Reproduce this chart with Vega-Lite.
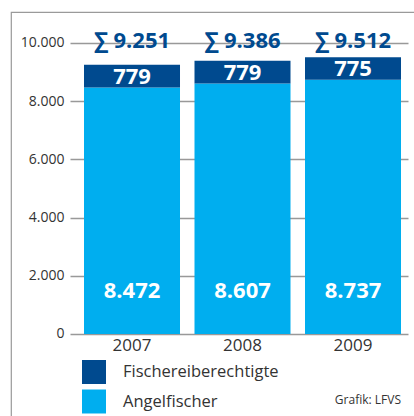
{
  "$schema": "https://vega.github.io/schema/vega-lite/v6.json",
  "width": 410,
  "height": 410,
  "autosize": {"type": "none"},
  "padding": {"left": 11, "top": 12, "right": 0, "bottom": 0},
  "background": "white",
  "config": {
    "locale": {"number": {"decimal": ",", "thousands": ".", "grouping": [3], "currency": ["", " €"]}},
    "view": {"stroke": "#9a9a9a", "strokeWidth": 1.2},
    "font": "Open Sans"
  },
  "datasets": {
    "bars": [
      {"year": "2007", "type": "Angelfischer", "value": 8472},
      {"year": "2007", "type": "Fischereiberechtigte", "value": 779},
      {"year": "2008", "type": "Angelfischer", "value": 8607},
      {"year": "2008", "type": "Fischereiberechtigte", "value": 779},
      {"year": "2009", "type": "Angelfischer", "value": 8737},
      {"year": "2009", "type": "Fischereiberechtigte", "value": 775}
    ],
    "totals": [
      {"year": "2007", "total": 9251, "label": "∑ 9.251"},
      {"year": "2008", "total": 9386, "label": "∑ 9.386"},
      {"year": "2009", "total": 9512, "label": "∑ 9.512"}
    ],
    "note": [{"text": "Grafik: LFVS"}]
  },
  "resolve": {"scale": {"x": "shared", "y": "shared"}},
  "layer": [
    {
      "data": {"name": "bars"},
      "mark": {"type": "bar"},
      "encoding": {
        "x": {
          "field": "year", "type": "nominal",
          "scale": {"paddingInner": 0.1312, "paddingOuter": 0.4208, "align": 0.785},
          "axis": {"orient": "bottom", "offset": -88, "ticks": false, "domain": false, "labelPadding": 3, "labelFontSize": 17, "labelColor": "#333333", "labelAngle": 0, "title": null, "zindex": 0}
        },
        "y": {
          "field": "value", "type": "quantitative",
          "scale": {"domain": [-3024, 11065], "nice": false, "zero": false},
          "axis": {"values": [0, 2000, 4000, 6000, 8000, 10000], "offset": -59, "tickSize": -338, "tickColor": "#999999", "tickWidth": 1.5, "domain": false, "grid": false, "labelPadding": 344, "labelFontSize": 14, "labelColor": "#333333", "title": null, "labelExpr": "replace(format(datum.value, ','), ',', '.')", "zindex": 0}
        },
        "color": {
          "field": "type", "type": "nominal",
          "scale": {"domain": ["Fischereiberechtigte", "Angelfischer"], "range": ["#004a8f", "#00aeef"]},
          "legend": {"orient": "none", "legendX": 71, "legendY": 348, "title": null, "symbolType": "square", "symbolSize": 576, "symbolStrokeWidth": 0, "symbolOpacity": 1, "labelFontSize": 16.5, "labelColor": "#333333", "labelOffset": 17, "rowPadding": 5.5, "padding": 0}
        },
        "order": {"field": "type", "type": "nominal", "sort": "ascending"}
      }
    },
    {
      "data": {"name": "bars"},
      "transform": [{"filter": "datum.type == 'Angelfischer'"}],
      "mark": {"type": "text", "color": "white", "fontWeight": "bold", "fontSize": 22, "baseline": "middle", "dy": -43},
      "encoding": {
        "x": {"field": "year", "type": "nominal"},
        "y": {"datum": 0, "type": "quantitative"},
        "text": {"field": "value", "type": "quantitative", "format": ",d"}
      }
    },
    {
      "data": {"name": "bars"},
      "transform": [
        {"joinaggregate": [{"op": "sum", "field": "value", "as": "total"}], "groupby": ["year"]},
        {"filter": "datum.type == 'Fischereiberechtigte'"}
      ],
      "mark": {"type": "text", "color": "white", "fontWeight": "bold", "fontSize": 22, "baseline": "middle", "dy": 12},
      "encoding": {
        "x": {"field": "year", "type": "nominal"},
        "y": {"field": "total", "type": "quantitative"},
        "text": {"field": "value", "type": "quantitative", "format": ",d"}
      }
    },
    {
      "data": {"name": "totals"},
      "mark": {"type": "text", "color": "#004a8f", "fontWeight": "bold", "fontSize": 22, "baseline": "middle", "dy": -2},
      "encoding": {
        "x": {"field": "year", "type": "nominal"},
        "y": {"datum": 10000, "type": "quantitative"},
        "text": {"field": "label", "type": "nominal"}
      }
    },
    {
      "data": {"name": "note"},
      "mark": {"type": "text", "color": "#333333", "fontSize": 12, "align": "right", "baseline": "middle", "dx": 48},
      "encoding": {
        "x": {"datum": "2009", "type": "nominal"},
        "y": {"datum": -2270, "type": "quantitative"},
        "text": {"field": "text", "type": "nominal"}
      }
    }
  ]
}
